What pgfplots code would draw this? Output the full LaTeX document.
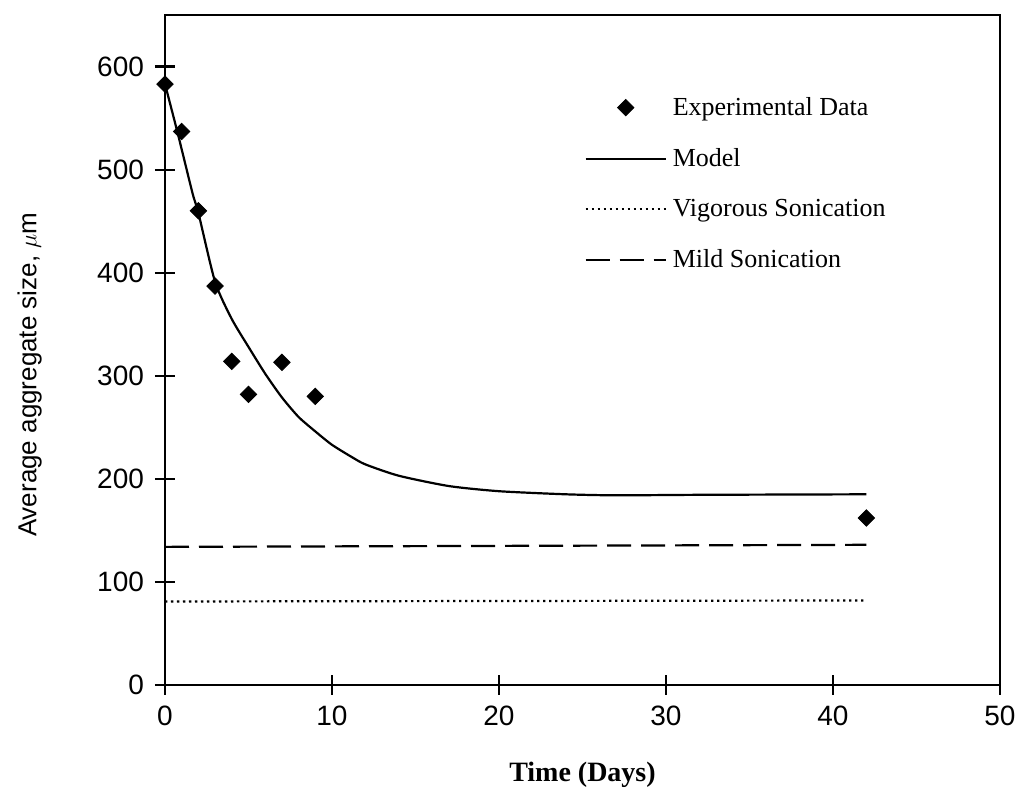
\documentclass[border=0pt]{standalone}
\usepackage{fontspec}
\setmainfont{Liberation Serif}
\newfontfamily\sansf{Liberation Sans}
\usepackage{pgfplots}
\pgfplotsset{compat=1.18}
\begin{document}
\begin{tikzpicture}
\begin{axis}[
  scale only axis, width=417.5pt, height=335pt,
  xmin=0, xmax=50, ymin=0, ymax=650,
  xtick={0,10,20,30,40,50}, ytick={0,100,200,300,400,500,600},
  tick align=center, xtick pos=bottom, ytick pos=left,
  major tick length=10pt,
  axis line style={line width=1.3pt},
  major tick style={draw=black, line width=1.1pt},
  tick label style={font=\sansf\fontsize{14}{14}\selectfont},
  /pgf/number format/assume math mode=true,
  xticklabel style={yshift=-2pt},
  yticklabel style={xshift=-2pt},
  xlabel={Time (Days)},
  ylabel={Average aggregate size, $\mu$m},
  xlabel style={font=\bfseries\fontsize{14}{14}\selectfont, at={(axis description cs:0.5,-0.134)}, anchor=center},
  ylabel style={font=\sansf\fontsize{13}{13}\selectfont, at={(axis description cs:-0.162,0.463)}, anchor=center},
  legend image code/.code={\draw[mark repeat=2,mark phase=2,#1] plot coordinates {(0pt,0pt) (20pt,0pt) (40pt,0pt)};},
  legend style={draw=none, fill=none, inner sep=0pt, at={(0.502,0.878)}, anchor=north west,
    row sep=15pt, font=\fontsize{13}{13}\selectfont,
    nodes={inner xsep=3pt, inner ysep=0pt}},
  legend cell align=left,
]
\addplot[only marks, mark=square*, mark size=2.9pt, mark options={rotate=45, fill=black, draw=black}] coordinates {
  (0,583) (1,537) (2,460) (3,387) (4,314) (5,282) (7,313) (9,280) (42,162)
};
\addlegendentry{Experimental Data}
\addplot[black, line width=1.1pt, smooth, tension=0.4] coordinates {
  (0,583) (0.75,536) (1.65,477) (2,458) (3,391) (4,355) (5,328) (6,302) (7,279)
  (8,260) (9,246) (10,233) (11.2,221) (12,214) (14,203) (17,193) (20,188)
  (24,185) (27,184) (32,184.5) (42,185)
};
\addlegendentry{Model}
\addplot[black, line width=1.1pt, dash pattern=on 1.2pt off 1.8pt] coordinates {(0,81) (42,82)};
\addlegendentry{Vigorous Sonication}
\addplot[black, line width=1.1pt, dash pattern=on 12pt off 5pt] coordinates {(0,134) (42,136)};
\addlegendentry{Mild Sonication}
\end{axis}
\pgfresetboundingbox
\path (-82.5pt,-58pt) rectangle (428.5pt,342.5pt);
\end{tikzpicture}
\end{document}
